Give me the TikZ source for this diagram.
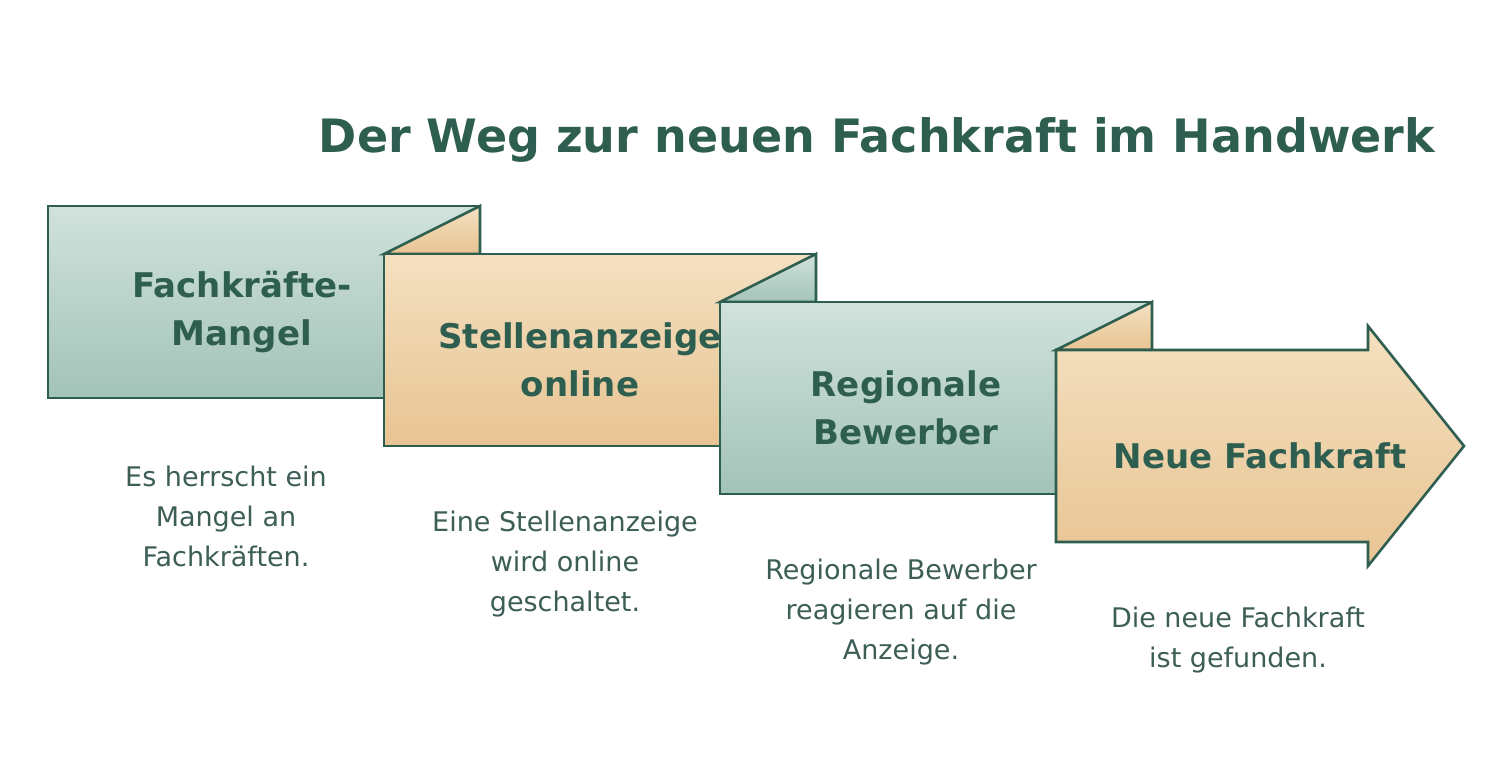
\documentclass[tikz,border=0pt]{standalone}
\usepackage{fontspec}
\setmainfont{DejaVu Sans}
\definecolor{ink}{HTML}{2E5E50}
\definecolor{txt}{HTML}{3D5E57}
\definecolor{gT}{HTML}{D0E2DB}
\definecolor{gB}{HTML}{A3C3B8}
\definecolor{tT}{HTML}{F4E0C0}
\definecolor{tB}{HTML}{E8C493}
\begin{document}
\begin{tikzpicture}[x=1pt,y=-1pt,
  box/.style={draw=ink,line width=2.6pt,line join=miter},
  green/.style={box,top color=gT,bottom color=gB,shading angle=0},
  tan/.style={box,top color=tT,bottom color=tB},
  lab/.style={font=\fontsize{34}{48}\selectfont\bfseries,text=ink,align=center},
  desc/.style={font=\fontsize{27}{40}\selectfont,text=txt,align=center}]
\useasboundingbox (0,0) rectangle (1512,766);
\fill[white] (0,0) rectangle (1512,766);
\node[font=\fontsize{46}{54}\selectfont\bfseries,text=ink] (title) at (877,140) {Der Weg zur neuen Fachkraft im Handwerk};
% box 1
\path[green] (48,206) rectangle (480,398);
% box 2
\path[tan] (384,254) -- (480,206) -- (480,254) -- cycle;
\path[tan] (384,254) rectangle (816,446);
% box 3
\path[green] (720,302) -- (816,254) -- (816,302) -- cycle;
\path[green] (720,302) rectangle (1152,494);
% box 4
\path[tan] (1056,350) -- (1152,302) -- (1152,350) -- cycle;
\path[tan] (1056,350) -- (1368,350) -- (1368,326) -- (1464,446) -- (1368,566) -- (1368,542) -- (1056,542) -- cycle;
\node[lab] (l1) at (242,312) {Fachkräfte-\\Mangel};
\node[lab] (l2) at (580,360) {Stellenanzeige\\online};
\node[lab] (l3) at (906,408) {Regionale\\Bewerber};
\node[lab] (l4) at (1260,456) {Neue Fachkraft};
\node[desc] (d1) at (226,516) {Es herrscht ein\\Mangel an\\Fachkräften.};
\node[desc] (d2) at (565,564) {Eine Stellenanzeige\\wird online\\geschaltet.};
\node[desc] (d3) at (901,612) {Regionale Bewerber\\reagieren auf die\\Anzeige.};
\node[desc] (d4) at (1238,640) {Die neue Fachkraft\\ist gefunden.};
\end{tikzpicture}
\end{document}
